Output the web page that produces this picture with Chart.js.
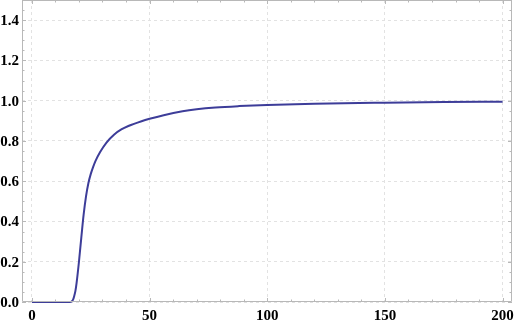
<!DOCTYPE html>
<html><head><meta charset="utf-8">
<script src="https://cdn.jsdelivr.net/npm/chart.js@4/dist/chart.umd.min.js"></script>
<style>html,body{margin:0;padding:0;background:#fff}#w{width:516px;height:325px}</style>
</head><body><div id="w"><canvas id="c"></canvas></div>
<script>
const xValues = [0, 16, 17, 17.5, 18, 18.5, 19, 20, 21, 22, 23, 24, 25, 26, 27, 29, 31.7, 35, 38, 41, 46.6, 50, 56, 64, 70, 78, 88, 100, 120, 150, 175, 200];
const yValues = [0, 0, 0.004, 0.012, 0.03, 0.055, 0.095, 0.20, 0.32, 0.435, 0.525, 0.59, 0.635, 0.67, 0.70, 0.745, 0.792, 0.832, 0.857, 0.874, 0.898, 0.910, 0.928, 0.947, 0.957, 0.966, 0.973, 0.979, 0.985, 0.990, 0.993, 0.995];
const xMajorTicks = [0, 50, 100, 150, 200];
const yMajorTicks = [0.0, 0.2, 0.4, 0.6, 0.8, 1.0, 1.2, 1.4];

const points = xValues.map((x, i) => ({x: x, y: yValues[i]}));
const frameColor = '#b8b8b8';
const labelFont = 'bold 15px "Liberation Serif", serif';

const frameTicks = {
  id: 'frameTicks',
  afterDraw(chart) {
    const {ctx, chartArea: a, scales: {x, y}} = chart;
    ctx.save();
    ctx.strokeStyle = frameColor;
    ctx.lineWidth = 1;
    ctx.beginPath();
    ctx.rect(a.left + 0.5, a.top + 0.5, a.right - a.left - 1, a.bottom - a.top - 1);
    ctx.stroke();
    ctx.beginPath();
    for (let v = 0; v <= 204; v += 10) {
      const px = Math.round(x.getPixelForValue(v)) + 0.5;
      const len = (v % 50 === 0) ? 4 : 2.5;
      ctx.moveTo(px, a.bottom); ctx.lineTo(px, a.bottom - len);
      ctx.moveTo(px, a.top); ctx.lineTo(px, a.top + len);
    }
    for (let k = 0; k <= 30; k++) {
      const v = k * 0.05;
      const py = Math.round(y.getPixelForValue(v)) + 0.5;
      const len = (k % 4 === 0) ? 4 : 2.5;
      ctx.moveTo(a.left, py); ctx.lineTo(a.left + len, py);
      ctx.moveTo(a.right, py); ctx.lineTo(a.right - len, py);
    }
    ctx.stroke();
    ctx.fillStyle = '#000';
    ctx.font = labelFont;
    ctx.textBaseline = 'alphabetic';
    ctx.textAlign = 'right';
    yMajorTicks.forEach(v => {
      ctx.fillText(v.toFixed(1), a.left - 3, y.getPixelForValue(v) + 5);
    });
    ctx.textAlign = 'center';
    xMajorTicks.forEach(v => {
      ctx.fillText(String(v), x.getPixelForValue(v), a.bottom + 18);
    });
    ctx.restore();
  }
};

new Chart(document.getElementById('c'), {
  type: 'line',
  data: {
    datasets: [{
      data: points,
      borderColor: '#3d3d99',
      borderWidth: 2,
      pointRadius: 0,
      fill: false,
      clip: false,
      cubicInterpolationMode: 'monotone'
    }]
  },
  options: {
    responsive: true,
    maintainAspectRatio: false,
    animation: false,
    layout: {padding: {left: 0, right: 4, top: 0, bottom: 0}},
    plugins: {legend: {display: false}, tooltip: {enabled: false}},
    scales: {
      x: {
        type: 'linear', min: -4.2, max: 204,
        afterBuildTicks(s) { s.ticks = xMajorTicks.map(v => ({value: v})); },
        afterFit(s) { s.height = 23; s.paddingLeft = 0; s.paddingRight = 0; },
        border: {display: false, dash: [3, 3]},
        grid: {color: '#e2e2e2', drawTicks: false},
        ticks: {display: false}
      },
      y: {
        type: 'linear', min: 0, max: 1.5,
        afterBuildTicks(s) { s.ticks = yMajorTicks.map(v => ({value: v})); },
        afterFit(s) { s.width = 22; s.paddingTop = 0; s.paddingBottom = 0; },
        border: {display: false, dash: [3, 3]},
        grid: {color: '#e2e2e2', drawTicks: false},
        ticks: {display: false}
      }
    }
  },
  plugins: [frameTicks]
});
</script>
</body></html>
